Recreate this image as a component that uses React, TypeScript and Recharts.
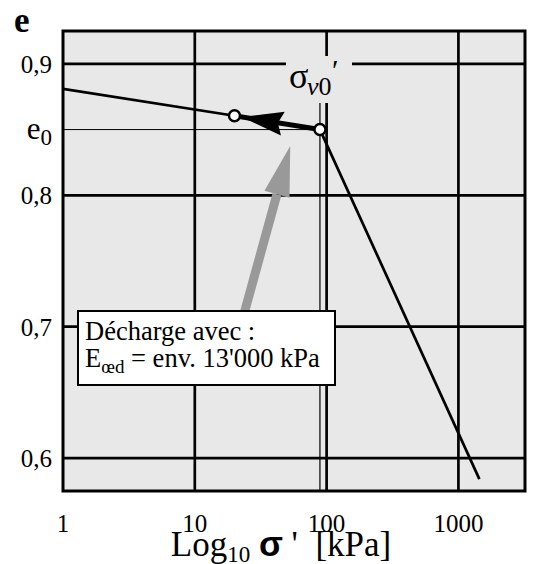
import React from 'react';
import {
  ComposedChart,
  Line,
  Scatter,
  XAxis,
  YAxis,
  CartesianGrid,
  ReferenceLine,
  ReferenceArea,
} from 'recharts';

// oedometer curve
const unloadStress = [1, 20];
const unloadVoid = [0.881, 0.8605];
const arrowStress = [89, 20];
const arrowVoid = [0.85, 0.8605];
const virginStress = [89, 1442];
const virginVoid = [0.85, 0.584];
const pointStress = [20, 89];
const pointVoid = [0.8605, 0.85];
const hintStress = [23.5, 42];
const hintVoid = [0.709, 0.8008];

const e0 = 0.85;
const sigmaV0 = 89;
const xDomain = [1, 3200];
const yDomain = [0.575, 0.925];
const xTicks = [1, 10, 100, 1000];
const yTicks = [0.6, 0.7, 0.8, 0.85, 0.9];
const xGrid = [10, 100, 1000];
const yGrid = [0.6, 0.7, 0.8, 0.9];

const SERIF = '"Liberation Serif", "Times New Roman", serif';

const toPoints = (xs: number[], ys: number[]) => xs.map((s, i) => ({ s, e: ys[i] }));

function YTick({ x, y, payload }: any) {
  if (payload.value === e0) {
    return (
      <text x={x} y={y} dy="0.3em" textAnchor="end" fontFamily={SERIF} fontSize={31} fill="#000">
        e<tspan fontSize={23} dy={6}>0</tspan>
      </text>
    );
  }
  return (
    <text x={x} y={y} dy="0.36em" textAnchor="end" fontFamily={SERIF} fontSize={25} fill="#000">
      {payload.value.toFixed(1).replace('.', ',')}
    </text>
  );
}

function XTick({ x, y, payload }: any) {
  return (
    <text x={x} y={y} dy="0.71em" textAnchor="middle" fontFamily={SERIF} fontSize={25} fill="#000">
      {payload.value}
    </text>
  );
}

function XTitle({ viewBox }: any) {
  const { x, y, width } = viewBox;
  return (
    <text x={x + width / 2 - 13} y={y + 65} textAnchor="middle" fontFamily={SERIF} fontSize={35} fill="#000" style={{ whiteSpace: 'pre' }}>
      Log<tspan fontSize={23} dy={6}>10</tspan>
      <tspan dy={-6}> </tspan>
      <tspan fontFamily='"Liberation Sans", Arial, sans-serif' fontWeight="bold">σ</tspan>
      <tspan>{" '  [kPa]"}</tspan>
    </text>
  );
}

function YTitle({ viewBox }: any) {
  return (
    <text x={viewBox.x + 14} y={viewBox.y + 1} fontFamily={SERIF} fontSize={35} fontWeight="bold" fill="#000">
      e
    </text>
  );
}

export default function App() {
  return (
    <div style={{ position: 'absolute', left: 0, top: 0, width: 533, height: 564, background: '#fff', fontFamily: SERIF }}>
      <ComposedChart width={533} height={564} margin={{ top: 31, right: 8, bottom: 33, left: 0 }}>
        <defs>
          <marker id="headBlack" markerUnits="userSpaceOnUse" orient="auto" overflow="visible" refX={7} refY={0} markerWidth={1} markerHeight={1}>
            <path d="M0,0 L-42,-12 L-37,0 L-42,12 Z" fill="#000" />
          </marker>
          <marker id="headGrey" markerUnits="userSpaceOnUse" orient="auto" overflow="visible" refX={0} refY={0} markerWidth={1} markerHeight={1}>
            <path d="M0,-13 L50,0 L0,13 Z" fill="#999" />
          </marker>
        </defs>
        <CartesianGrid
          fill="#e8e8e8"
          fillOpacity={1}
          stroke="#000"
          strokeWidth={2.7}
          horizontalValues={yGrid}
          verticalValues={xGrid}
        />
        <XAxis
          dataKey="s"
          type="number"
          scale="log"
          domain={xDomain}
          ticks={xTicks}
          allowDataOverflow
          height={40}
          tickSize={0}
          tickMargin={23}
          axisLine={false}
          tick={<XTick />}
          label={(props: any) => <XTitle {...props} />}
        />
        <YAxis
          dataKey="e"
          type="number"
          domain={yDomain}
          ticks={yTicks}
          allowDataOverflow
          width={63}
          tickSize={0}
          tickMargin={11}
          axisLine={false}
          tick={<YTick />}
          label={(props: any) => <YTitle {...props} />}
        />
        <ReferenceArea x1={xDomain[0]} x2={xDomain[1]} y1={yDomain[0]} y2={yDomain[1]} fill="none" fillOpacity={0} stroke="#000" strokeWidth={3} />
        <ReferenceLine segment={[{ x: xDomain[0], y: e0 }, { x: sigmaV0, y: e0 }]} stroke="#000" strokeWidth={1} />
        <ReferenceLine segment={[{ x: sigmaV0, y: yDomain[0] }, { x: sigmaV0, y: 0.88 }]} stroke="#000" strokeWidth={1.2} />
        <Line data={toPoints(hintStress, hintVoid)} dataKey="e" type="linear" stroke="#999" strokeWidth={9} dot={false} markerEnd="url(#headGrey)" isAnimationActive={false} />
        <Line data={toPoints(unloadStress, unloadVoid)} dataKey="e" type="linear" stroke="#000" strokeWidth={2.7} dot={false} isAnimationActive={false} />
        <Line data={toPoints(arrowStress, arrowVoid)} dataKey="e" type="linear" stroke="#000" strokeWidth={5} dot={false} markerEnd="url(#headBlack)" isAnimationActive={false} />
        <Line data={toPoints(virginStress, virginVoid)} dataKey="e" type="linear" stroke="#000" strokeWidth={2.7} dot={false} isAnimationActive={false} />
        <Scatter
          data={toPoints(pointStress, pointVoid)}
          dataKey="e"
          isAnimationActive={false}
          shape={(p: any) => <circle cx={p.cx} cy={p.cy} r={5.5} fill="#fff" stroke="#000" strokeWidth={2.5} />}
        />
      </ComposedChart>

      <div style={{ position: 'absolute', left: 286, top: 56, width: 66, height: 47, background: '#e8e8e8' }}>
        <span style={{ position: 'absolute', left: 3, top: 2, fontSize: 36, lineHeight: 1 }}>σ</span>
        <span style={{ position: 'absolute', left: 21, top: 18, fontSize: 26, lineHeight: 1 }}>
          <i>v</i>0
        </span>
        <span style={{ position: 'absolute', left: 46, top: -1, fontSize: 30, lineHeight: 1 }}>′</span>
      </div>

      <div
        style={{
          position: 'absolute',
          left: 77,
          top: 310,
          width: 259,
          height: 76,
          boxSizing: 'border-box',
          border: '2.5px solid #000',
          background: '#fff',
          fontSize: 26.5,
          lineHeight: '27px',
          padding: '6px 0 0 6px',
          whiteSpace: 'nowrap',
        }}
      >
        Décharge avec :<br />
        E<span style={{ fontSize: 19, verticalAlign: -6, lineHeight: 0 }}>œd</span> = env. 13'000 kPa
      </div>
    </div>
  );
}
